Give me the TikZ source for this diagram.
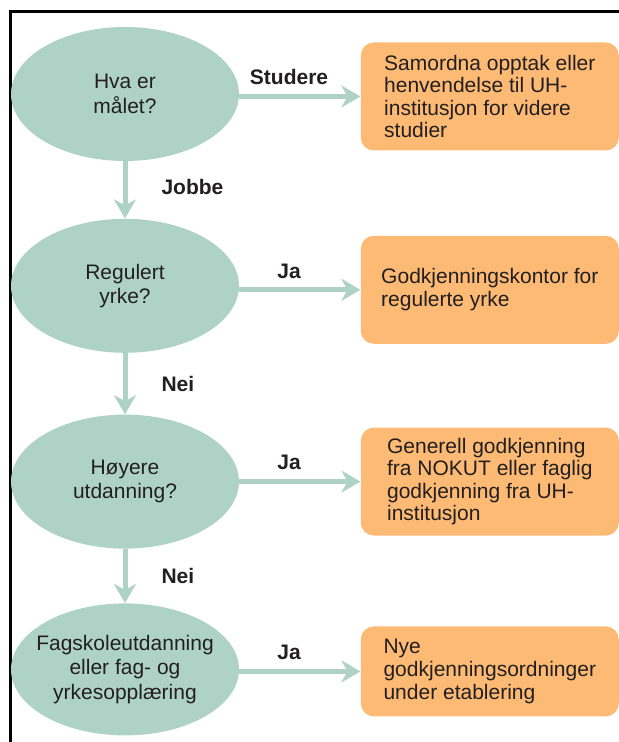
\documentclass[tikz,border=0pt]{standalone}
\usepackage{fontspec}
\setmainfont{Liberation Sans}
\usetikzlibrary{shapes.geometric}
\usetikzlibrary{positioning,arrows.meta}
\definecolor{askgreen}{RGB}{174,211,198}
\definecolor{ansorange}{RGB}{252,186,116}
\definecolor{inkgray}{RGB}{35,31,32}
\tikzset{
    question/.style={
        ellipse, fill=askgreen, text=inkgray,
        minimum width=114pt, minimum height=67pt,
        inner sep=-4.5pt, align=center,
        font=\fontsize{10.5}{12.2}\selectfont
    },
    answer/.style={
        rectangle, fill=ansorange, text=inkgray,
        rounded corners=6.5pt,
        minimum width=129pt, minimum height=54pt,
        align=left,
        font=\fontsize{10.5}{11.3}\selectfont
    }
}

\begin{document}
\begin{tikzpicture}[
    arrow/.style={
        -{Stealth[length=9.5pt, width=11pt, inset=3pt]},
        line width=2.5pt, draw=askgreen
    },
    lbl/.style={font=\fontsize{10.5}{12}\selectfont\bfseries, text=inkgray},
]

\useasboundingbox (0,0) rectangle (309.5pt,-371pt);

% frame (cut off at right and bottom)
\draw[line width=1.5pt] (5.25pt,-371pt) -- (5.25pt,-6pt) -- (309.5pt,-6pt);

% ===============================
%        Questions (left)
% ===============================

\node[question] (ask1) at (62.5pt,-47pt) {Hva er\\målet?};

\node[question, below=28.5pt of ask1] (ask2) {Regulert\\yrke?};

\node[question, below=30.5pt of ask2] (ask3) {Høyere\\utdanning?};

\node[question, below=27pt of ask3, minimum height=66pt] (ask4)
    {Fagskoleutdanning\\eller fag- og\\yrkesopplæring};


% ===============================
%        Answers (right)
% ===============================

\node[answer, right=60.5pt of ask1, yshift=-1.25pt] (ans1)
    {Samordna opptak eller\\henvendelse til UH-\\institusjon for videre\\studier};

\node[answer, right=60.5pt of ask2, yshift=-2pt] (ans2)
    {Godkjenningskontor for\\regulerte yrke};

\node[answer, right=60.5pt of ask3] (ans3)
    {Generell godkjenning\\fra NOKUT eller faglig\\godkjenning fra UH-\\institusjon};

\node[answer, right=60.5pt of ask4, yshift=-1pt, minimum height=45pt] (ans4)
    {Nye\\godkjenningsordninger\\under etablering};


% ===============================
%             arrows
% ===============================

\draw[arrow] (ask1) -- node[lbl, right=13.7pt, pos=0.45] {Jobbe} (ask2);
\draw[arrow] (ask2) -- node[lbl, right=13.7pt] {Nei} (ask3);
\draw[arrow] (ask3) -- node[lbl, right=13.7pt] {Nei} (ask4);

\draw[arrow] (ans1.west -| ask1.east) -- node[lbl, above=1.2pt, pos=0.41] {Studere} (ans1.west);
\draw[arrow] (ans2.west -| ask2.east) -- node[lbl, above=1.2pt, pos=0.41] {Ja} (ans2.west);
\draw[arrow] (ans3.west -| ask3.east) -- node[lbl, above=1.2pt, pos=0.41] {Ja} (ans3.west);
\draw[arrow] (ans4.west -| ask4.east) -- node[lbl, above=1.2pt, pos=0.41] {Ja} (ans4.west);

\end{tikzpicture}
\end{document}
